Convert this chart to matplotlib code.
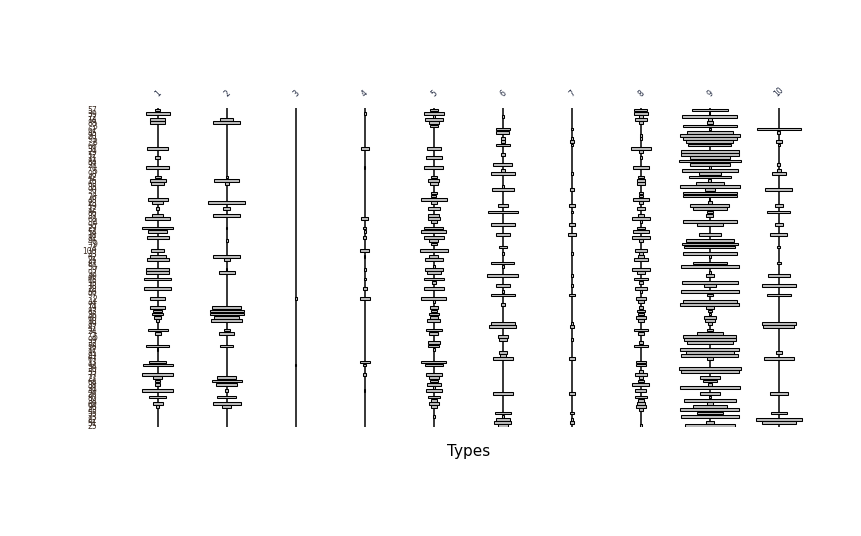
import matplotlib
matplotlib.use("Agg")
import matplotlib.pyplot as plt

# row order (top to bottom)
row_labels = [57, 39, 72, 14, 88, 3, 61, 45, 20, 93, 8, 66, 31, 79, 52, 11, 84, 27, 70, 5,
              98, 42, 16, 63, 35, 90, 1, 76, 48, 23, 59, 12, 86, 37, 68, 4, 95, 29, 54, 18,
              81, 46, 9, 74, 100, 33, 62, 21, 87, 50, 7, 92, 40, 65, 15, 78, 28, 56, 97, 2,
              44, 71, 19, 83, 36, 60, 10, 89, 47, 24, 75, 6, 99, 32, 58, 17, 85, 41, 67, 13,
              94, 30, 53, 77, 22, 64, 38, 91, 49, 26, 80, 34, 69, 96, 43, 55, 73, 82, 51, 25]

types = ["1", "2", "3", "4", "5", "6", "7", "8", "9", "10"]

# bar widths per row for each type {row index: value}
type1 = {0: 5, 1: 24, 3: 15, 4: 15, 12: 21, 15: 5, 18: 23, 21: 6, 22: 16, 23: 13, 28: 20, 29: 11,
         31: 3, 33: 11, 34: 25, 37: 31, 38: 19, 40: 22, 44: 13, 46: 16, 47: 22, 50: 23, 51: 23,
         53: 27, 56: 27, 59: 15, 62: 15, 63: 9, 64: 11, 65: 7, 66: 3, 69: 20, 70: 6, 74: 23,
         75: 1, 79: 17, 80: 30, 83: 31, 84: 9, 85: 5, 86: 5, 88: 31, 90: 17, 92: 10, 93: 3}
type2 = {3: 13, 4: 27, 21: 2, 22: 25, 23: 4, 29: 37, 31: 7, 33: 27, 37: 1, 41: 2, 46: 27, 47: 6,
         50: 1, 51: 16, 62: 29, 63: 34, 64: 34, 65: 25, 66: 31, 69: 6, 70: 15, 74: 13, 84: 19,
         85: 30, 86: 21, 88: 3, 90: 19, 92: 28, 93: 9}
type3 = {59: 2, 80: 1}
type4 = {1: 2, 12: 8, 18: 1, 34: 7, 37: 3, 38: 2, 40: 3, 44: 9, 46: 1, 50: 2, 53: 2, 56: 4,
         59: 10, 79: 10, 80: 3, 83: 3, 88: 1}
type5 = {0: 8, 1: 20, 2: 2, 3: 18, 4: 10, 5: 8, 12: 14, 15: 16, 18: 19, 21: 6, 22: 11, 23: 8,
         26: 6, 27: 5, 28: 26, 29: 6, 31: 12, 33: 11, 34: 12, 35: 6, 37: 19, 38: 25, 40: 20,
         41: 9, 42: 6, 44: 28, 46: 9, 47: 18, 49: 2, 50: 18, 51: 14, 53: 20, 54: 4, 56: 20,
         59: 25, 60: 2, 62: 8, 63: 6, 64: 10, 65: 8, 66: 13, 69: 16, 70: 9, 73: 12, 74: 11,
         75: 2, 79: 25, 80: 18, 83: 16, 84: 10, 85: 8, 86: 14, 87: 2, 88: 16, 90: 12, 91: 6,
         92: 10, 93: 6, 96: 2}
type6 = {2: 2, 6: 14, 7: 13, 9: 4, 10: 4, 11: 14, 14: 4, 17: 19, 19: 4, 20: 24, 24: 2, 25: 22,
         30: 10, 32: 30, 36: 24, 39: 14, 43: 8, 45: 2, 48: 23, 49: 2, 52: 31, 55: 14, 57: 2,
         58: 24, 61: 4, 67: 24, 68: 27, 71: 10, 72: 8, 76: 8, 77: 6, 78: 20, 89: 20, 95: 16,
         96: 2, 97: 14, 98: 17, 99: 10}
type7 = {6: 2, 9: 2, 10: 4, 11: 2, 20: 2, 25: 4, 30: 6, 32: 2, 36: 6, 39: 8, 45: 2, 52: 2,
         55: 2, 58: 6, 67: 2, 68: 4, 72: 2, 78: 6, 89: 6, 95: 4, 97: 2, 98: 4}
type8 = {0: 13, 1: 14, 2: 4, 3: 12, 4: 4, 8: 2, 9: 2, 12: 20, 13: 4, 15: 2, 18: 16, 21: 6,
         22: 8, 23: 8, 26: 4, 27: 4, 28: 16, 29: 4, 31: 8, 33: 6, 34: 18, 35: 2, 37: 8, 38: 16,
         40: 18, 41: 4, 44: 12, 45: 4, 46: 6, 47: 14, 50: 18, 51: 8, 53: 14, 54: 4, 56: 12,
         57: 2, 59: 10, 60: 6, 62: 4, 63: 8, 64: 6, 65: 10, 66: 6, 69: 14, 70: 6, 73: 4,
         74: 14, 79: 10, 80: 10, 82: 4, 83: 12, 84: 4, 85: 6, 86: 17, 88: 11, 90: 12, 91: 6,
         92: 8, 93: 10, 94: 4, 99: 2}
type9 = {0: 36, 1: 1, 2: 55, 3: 4, 4: 6, 5: 54, 6: 2, 7: 46, 8: 60, 9: 54, 10: 47, 11: 43,
         13: 58, 14: 58, 15: 40, 16: 62, 17: 40, 18: 2, 19: 56, 20: 22, 21: 42, 22: 3, 23: 28,
         24: 60, 25: 10, 26: 54, 27: 54, 28: 1, 29: 4, 30: 39, 31: 34, 32: 6, 33: 7, 35: 54,
         36: 26, 39: 22, 41: 48, 42: 56, 43: 51, 45: 54, 46: 2, 48: 34, 49: 58, 51: 2, 52: 8,
         54: 56, 55: 12, 57: 58, 58: 6, 60: 54, 61: 59, 62: 8, 63: 4, 64: 2, 65: 12, 66: 10,
         67: 4, 69: 6, 70: 26, 71: 53, 72: 52, 73: 46, 75: 59, 76: 48, 77: 57, 78: 6, 81: 62,
         82: 58, 84: 20, 85: 14, 86: 4, 87: 60, 89: 20, 90: 2, 91: 52, 92: 6, 93: 34, 94: 59,
         95: 26, 96: 58, 98: 8, 99: 50}
type10 = {6: 44, 7: 3, 10: 6, 11: 2, 17: 3, 19: 4, 20: 14, 25: 27, 30: 8, 32: 23, 36: 8,
          39: 17, 43: 3, 48: 4, 52: 22, 55: 34, 58: 24, 67: 34, 68: 31, 76: 6, 78: 30,
          89: 18, 95: 16, 97: 46, 98: 34}

all_types = [type1, type2, type3, type4, type5, type6, type7, type8, type9, type10]
n_rows = len(row_labels)
scale = 1 / 69.0  # value -> column units

fig = plt.figure(figsize=(8.61, 5.36), dpi=100)
ax = fig.add_axes([0.1434, 0.2028, 0.8014, 0.595])

for j, col in enumerate(all_types):
    x0 = j + 1
    ax.vlines(x0, -0.5, n_rows - 0.5, color="black", lw=1.1, zorder=1)
    rows = list(col.keys())
    w = [col[r] * scale for r in rows]
    left = [x0 - v / 2 for v in w]
    ax.barh(rows, w, left=left, height=0.86, color="#bebebe",
            edgecolor="black", linewidth=0.75, zorder=2)

ax.set_xlim(0.5, 10.5)
ax.set_ylim(n_rows - 0.5, -0.5)

# column labels on top
ax.xaxis.tick_top()
ax.set_xticks(range(1, 11))
ax.set_xticklabels(types, rotation=45, fontsize=5.5, color="#202840")
ax.tick_params(axis="x", length=0, pad=7)
ax.xaxis.set_label_position("bottom")
ax.set_xlabel("Types", fontsize=11, labelpad=12)

# row labels on the left
ax.set_yticks(range(n_rows))
ax.set_yticklabels([str(v) for v in row_labels], fontsize=5.5, color="#3a2a20")
ax.tick_params(axis="y", length=0, pad=19)

for s in ax.spines.values():
    s.set_visible(False)

fig.savefig("out.png", dpi=100)
